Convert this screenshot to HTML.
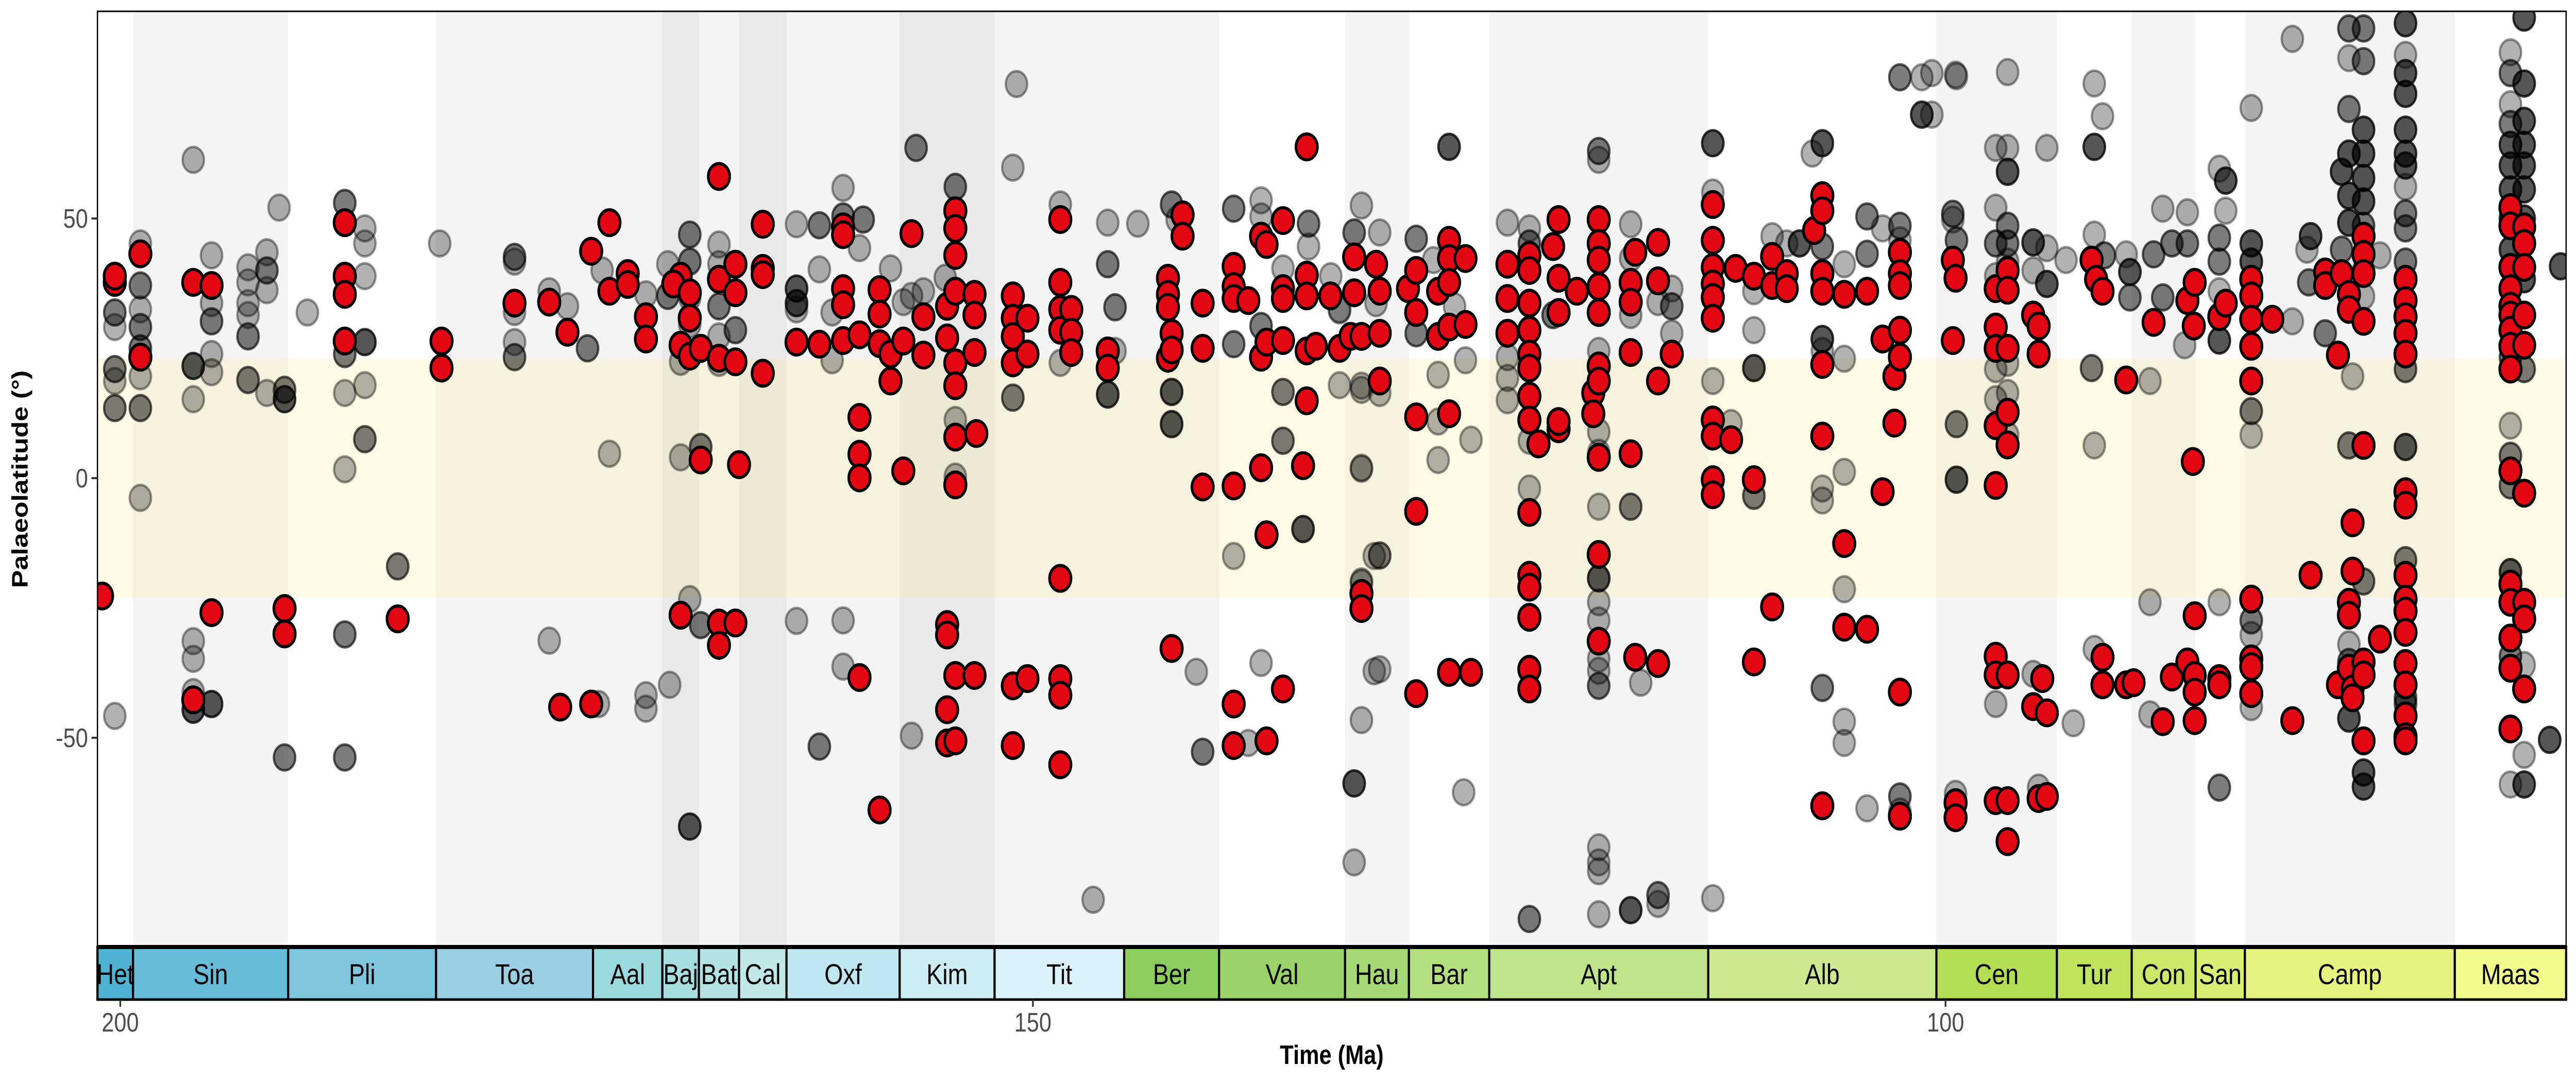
<!DOCTYPE html>
<html><head><meta charset="utf-8"><title>Palaeolatitude through time</title>
<style>
html,body{margin:0;padding:0;background:#fff;width:100%;height:100%;overflow:hidden;}
svg{display:block;width:100vw;height:100vh;font-family:"Liberation Sans",Arial,sans-serif;}
</style></head>
<body>
<svg id="chart" viewBox="0 0 6000 2100" preserveAspectRatio="none" xmlns="http://www.w3.org/2000/svg">
<defs><clipPath id="panelClip"><rect x="227" y="22" width="5750" height="1815"/></clipPath></defs>
<rect x="0" y="0" width="6000" height="2100" fill="#fff"/>
<g id="bands"></g>
<g id="tropics"></g>
<g id="pts" clip-path="url(#panelClip)"></g>
<rect x="227" y="22" width="5750" height="1815" fill="none" stroke="#000" stroke-width="3"/>
<g id="scale"></g>
<g id="axes"></g>
<text x="3102" y="2065" text-anchor="middle" font-size="52" font-weight="bold" fill="#000">Time (Ma)</text>
<text transform="translate(64,930) rotate(-90)" text-anchor="middle" font-size="52" font-weight="bold" fill="#000">Palaeolatitude (°)</text>
</svg>
<script>
const stageNames=["Het","Sin","Pli","Toa","Aal","Baj","Bat","Cal","Oxf","Kim","Tit","Ber","Val","Hau","Bar","Apt","Alb","Cen","Tur","Con","San","Camp","Maas"];
const stageStart=[201.3,199.3,190.8,182.7,174.1,170.3,168.3,166.1,163.5,157.3,152.1,145,139.8,132.9,129.4,125,113,100.5,93.9,89.8,86.3,83.6,72.1];
const stageEnd=[199.3,190.8,182.7,174.1,170.3,168.3,166.1,163.5,157.3,152.1,145,139.8,132.9,129.4,125,113,100.5,93.9,89.8,86.3,83.6,72.1,66];
const stageColors=["#4eb3d3","#67bcd8","#80c5de","#99cee3","#9ad9dd","#a6dde0","#b3e2e3","#bfe7e5","#bfe7f1","#ccecf4","#d9f1f7","#8ccd60","#99d36a","#a6d975","#b3df7f","#bfe48a","#cce98f","#b3de53","#bfe35d","#cce868","#d9ef74","#e6f47f","#f2fa8c"];
const xTicks=[200,150,100];
const yTicks=[50,0,-50];
const tropicLimits=[-23,23];

const redAges=[201.0,200.3,198.9,196.0,195.0,191.0,187.7,182.4,184.8,178.4,176.5,175.5,174.2,173.2,172.2,171.2,175.9,169.3,169.7,168.8,168.2,167.2,166.3,166.1,
164.8,162.95,161.7,160.4,159.5,158.4,157.8,157.1,156.65,156.0,154.7,154.25,153.2,153.1,151.1,150.3,148.5,147.9,145.9,142.6,142.4,141.8,140.7,139.0,138.2,137.5,137.2,136.3,135.0,134.5,135.2,133.7,133.2,132.6,132.4,132.0,
131.2,131.0,129.45,129.0,127.8,127.2,126.3,126.0,124.0,122.8,122.3,121.5,121.2,120.2,119.3,119.0,117.25,117.0,115.75,115.0,112.75,111.75,111.5,110.5,109.5,108.7,107.2,106.75,105.55,104.3,103.45,102.8,102.5,
99.6,99.45,97.25,96.6,95.2,94.9,94.7,94.45,92.0,91.75,91.4,90.1,89.7,88.6,88.1,87.6,86.75,86.35,86.4,86.45,85.0,84.65,83.25,82.1,81.0,80.0,79.2,78.5,78.3,77.9,77.7,77.1,76.2,74.8,69.05,68.3];
const redLats=[[-22.7],[37.7,38.9],[43.2,23.3],[37.7,-42.7],[37.1,-25.9],[-25.1,-30.0],[49.2,38.9,35.4,26.4],[26.4,21.2],[-27.1],[33.7],[33.9],[28.1],[43.7,-43.5],[49.2,36.0],[39.4,37.3],[31.1,26.8],[-44.1],[-26.4,25.6,38.9],[37.4],[35.7,30.8,23.5],[25.0,3.5],[58.1,38.3,23.1,-27.9,-32.2],[41.2,35.7,22.4,-27.9],[2.6],
[48.9,40.4,39.2,20.2],[26.2],[25.8],[48.4,46.9,36.5,33.4,26.5],[27.6,11.7,4.6,0.05,-38.4],[36.3,31.6,25.9,-63.9],[23.9,18.7],[26.4,1.4],[47.1],[31.1,23.7],[33.1,27.0,-28.2,-30.2,-44.6,-51.0],[51.5,48.1,42.9,36.0,22.2,17.8,7.9,-1.3,-38.0,-50.6],[35.4,31.4,24.2,-38.0],[8.6],[35.1,30.8,27.3,22.2,-40.0,-51.5],[30.8,23.9,-38.6],[49.8,37.7,32.5,28.5,-19.3,-38.6,-41.8,-55.2],[32.5,28.1,24.2],[24.5,21.2],[38.5,35.4,32.9,23.1],[27.9,24.7,-32.8],[50.7,46.6],[33.7,25.0,-1.7],[40.8,36.9,34.6,-1.5,-43.5,-51.5],[34.2],[46.6,23.3,2.0],[45.0,26.2,-10.9,-50.6],[49.6,36.5,34.6,26.5,-40.6],[63.8,39.1,35.1,24.5,14.9],[25.4],[2.4],[35.1],[25.0],[27.3],[35.7,42.6],[27.3,-22.2,-25.1],
[41.2],[36.0,27.9,18.7],[36.5],[40.0,31.9,11.8,-6.4,-41.5],[36.0,27.3],[45.8,42.3,37.7,29.1,12.4,-37.4],[42.3,29.6],[-37.4],[41.2,34.6,27.9],[42.9,40.0,33.7,28.5,23.9,21.2,15.8,11.2,-6.6,-18.7,-21.0,-26.8,-36.8,-40.6],[6.6],[44.6],[49.8,38.5,31.9,9.5,10.9],[36.0],[16.4,12.4],[49.8,45.2,42.0,36.9,31.9,21.6,18.7,4.0,-14.7,-31.4],[37.7,33.9,24.2,4.7],[43.5,-34.5],[45.4,38.0,18.7,-35.7],[23.9],[52.7,45.8,40.6,37.4,34.8,30.8,11.2,8.1,-0.3,-3.2],[7.4],[40.4],[38.9,-0.3,-35.4],[42.7,37.1,-24.8],[39.4,36.5],[47.7],[54.4,51.5,39.4,36.0,21.9,8.1,-63.1],[35.4,-12.6,-28.7],[36.0,-29.1],[26.8,-2.6],[10.6,19.6],[43.5,39.4,37.1,28.5,23.3,-41.2,-65.1],
[42.0,26.5],[38.5,-62.5,-65.4],[36.5,29.1,25.0,10.1,-1.4,-34.3,-37.9,-62.1],[40.0,36.2,25.0,12.7,6.4,-37.9,-62.1,-70.0],[31.4,-44.0],[29.3,23.9,-61.7],[-38.6],[-45.2,-61.3],[42.0],[38.3],[36.0,-34.5,-39.8],[18.9,-39.8],[-39.4],[30.0],[-46.9],[-38.3],[34.2,-35.4],[37.7,-26.5,-46.7,-38.0,-41.2],[29.3],[3.2],[31.1,-38.6,-39.8],[33.7],[38.3,35.1,30.6,25.4,18.7,-23.3,-34.8,-36.3,-41.5],[30.6],[-46.7],[-18.7],[39.7,37.1],[23.7,-39.8],[39.4],[35.4,32.5,-23.9,-26.4,-36.6],[-8.6,-17.9,-40.6,-42.3],[46.6,43.1,39.4,30.2,6.3,-35.4,-37.9,-50.6],[-31.0],[38.3,34.2,31.1,27.9,23.9,-2.6,-5.2,-18.7,-23.3,-25.6,-29.7,-35.7,-39.8,-45.8,-49.8,-50.6],[52.1,48.6,40.6,36.5,33.1,31.4,28.5,25.4,21.0,1.4,-20.4,-23.9,-30.8,-36.6,-48.3],[48.4,45.2,40.6,31.4,25.6,-2.9,-23.9,-27.1,-40.6]];

const greyAges=[200.3,198.9,196.0,195.0,193.0,191.97,191.3,191.0,189.75,187.7,186.6,184.8,182.5,178.4,176.5,175.5,174.4,173.6,173.2,173.8,171.2,169.9,170.0,168.8,169.3,168.2,167.2,166.3,
162.95,161.7,160.4,159.3,159.5,161.0,157.8,157.1,156.65,156.0,156.4,154.25,154.8,150.9,151.1,148.5,145.9,144.25,145.5,146.7,142.4,141.05,140.7,142.1,139.0,137.5,134.9,136.3,138.2,135.2,132.4,132.0,133.2,131.3,
133.68,131.0,131.2,129.0,127.8,126.3,126.0,127.2,126.4,128.05,126.9,124.0,122.8,121.5,119.0,117.25,116.7,115.75,115.0,112.75,111.75,110.5,109.5,108.7,108.0,106.75,107.3,105.55,104.3,103.45,102.5,101.3,99.4,99.6,
100.75,99.45,96.6,97.25,95.2,94.45,94.9,93.0,93.4,91.85,91.4,91.3,92.0,89.9,90.1,88.8,88.6,88.1,87.6,86.75,86.9,85.0,84.65,83.25,81.0,80.0,80.2,80.1,79.2,77.9,77.1,78.3,76.2,77.7,74.8,69.05,68.3,66.9,66.3];
const greyLats=[[31.9,29.1,21.0,18.7,13.5,-45.8,31.9,21.0,13.5],[45.2,37.1,32.5,29.1,25.0,19.6,13.5,-3.8,37.1,29.1,25.0,13.5],[61.3,21.6,15.2,-31.4,-34.8,-41.2,-44.6,21.6,21.6,-44.6,-44.6],[42.9,33.7,30.2,23.9,20.4,-43.5,-43.5,-43.5,30.2],[40.6,37.7,33.7,31.4,27.3,18.9,27.3,18.9],[43.5,40.0,36.2,16.4,40.0],[52.1],[17.0,15.2,-53.8,17.0,15.2,15.2,-53.8],[31.9],[53.0,23.9,16.4,1.7,-30.1,-53.8,53.0,23.9,-30.1,-53.8],[48.1,45.2,38.9,26.2,26.2,17.9,7.5,26.2,7.5],[-17.0,-17.0],[45.2],[42.6,41.7,26.2,23.3,32.0,42.6,23.3],[36.0,-31.3],[33.1],[25.0,25.0],[40.0],[4.7],[-43.5],[35.4,-41.8,-44.4],[-39.8],[41.2,35.1,35.1],[46.9,41.7,34.8,29.6,-23.3,-67.1,-67.1,-67.1,46.9,41.7],[22.4,4.0],[6.0,-28.3,6.0,-28.3],[45.0,41.2,33.1,27.3,22.2,33.1],[28.5,28.5],
[48.9,36.5,33.7,32.5,-27.5,36.5,33.7,36.5,33.7],[48.7,40.2,-51.7,48.7,-51.7],[55.9,50.4,-27.4,-36.3,50.4],[49.8,49.8],[44.3],[31.9,22.7],[40.4],[33.9],[35.1,-49.6],[36.0],[63.6,63.6],[56.1,11.2,0.3,56.1],[38.6],[75.9],[59.8,15.5,15.5],[52.7,22.2],[49.2,41.2,16.1,41.2,16.1,16.1],[49.0],[32.9,24.5,32.9],[-81.2],[52.7,16.6,10.4,52.7,16.6,16.6,10.4,10.4],[-37.3],[-52.7,-52.7],[49.8],[51.9,25.8,-15.0,51.9,25.8],[53.5,50.4,29.3,-35.6,29.3],[49.0,44.6,49.0],[40.4,16.6,7.2,16.6,7.2],[-51.0],[-9.8,-9.8,-9.8],[47.3,47.3,-58.8,-58.8,-58.8,-74.0],[52.5,17.0,1.8,-46.6,-19.9,17.8,2.0,-20.2],[32.3,17.9,32.5],[-15.0,-37.2],
[38.9],[16.4,-14.9,-36.8,47.3,-14.9],[33.7],[46.1,27.9,46.1,27.9],[19.9,10.9,3.5],[22.7],[7.4],[63.8,63.8,63.8],[-60.5],[42.0],[33.1],[49.2,23.3,19.3,15.0],[48.1,45.2,-2.0,7.2,-84.9,45.2,-84.9],[31.4,31.4],[63.0,63.0,61.3,24.5,8.9,4.9,-5.5,-19.3,-19.3,-23.9,-27.4,-34.8,-37.1,-40.0,-40.0,-71.1,-74.0,-75.7,-84.0,-19.3],[48.9,42.3,31.4,-5.5,-83.2,-83.2,-83.2,-5.5],[-39.4],[-80.3,-82.0,-80.3,33.9],[36.5,33.1,33.1,27.9],[64.5,64.5,64.5,55.0,18.7,-80.9],[10.6],[28.5,21.2,21.2,21.2,-3.4,36.0,-3.4],[46.6],[45.2],[45.2,45.2,45.2],[64.5,64.5,64.5,44.6,44.6,26.8,26.8,24.5,-2.0,-4.3,-40.4,26.8,-40.4],[62.5],[41.2,23.0,1.2,-21.4,-46.9,-51.0],[50.4,50.4,43.2,43.2,-63.6],[48.1],[48.6,48.6,45.8,-61.3,-61.3,-64.2,77.2,77.2],[77.2,70.0,70.0,70.0],[77.4,45.8,45.8,10.4,10.4,-0.3,-0.3,-0.3],[50.9,50.9,49.8],
[78.0,70.0],[77.7,-60.8],[78.2,63.6,59.0,59.0,48.6,45.2,41.7,22.2,16.4,8.3,59.0,48.6,45.2],[63.6,52.1,45.2,38.9,21.0,15.2,-43.5,45.2],[45.4,45.4,40.0,-37.7,45.4],[37.4,37.4,63.6,44.3,37.4],[-59.6],[-47.2],[42.0],[76.0,63.8,63.8,46.9,6.3,-32.9,63.8],[69.7],[42.9,42.9],[21.2,21.2],[39.7,39.7,34.8,34.8,39.7],[43.1],[18.7,-23.9,-45.5],[43.1,43.1],[51.9,34.8,34.8],[45.2,45.2],[51.2,45.2,45.2],[25.6],[-23.9,-59.6,-59.6,46.3,46.3,59.6,26.5,26.5,36.0,41.7,41.7,26.5],[57.3,57.3,51.5,57.3],[71.3,45.2,45.2,41.7,41.7,12.9,12.9,8.3,-27.4,-27.4,-30.2,-44.1,45.2,41.7],[84.6,30.2],[46.6,46.6,46.6],[44.0],[37.7,37.7],[27.9,27.9],
[86.6,86.6,80.9,71.1,71.1,62.5,62.5,62.5,54.4,54.4,54.4,49.2,49.2,49.2,6.3,6.3,-32.0,-46.3,-46.3,-46.3,-35.4,-35.4],
[86.6,86.6,80.3,80.3,67.1,67.1,67.1,62.5,62.5,62.5,57.8,57.8,57.8,53.3,53.3,53.3,48.6,48.6,-19.9,-19.9,-56.7,-56.7,-56.7,-59.4,-59.4,-59.4,43.0,40.0,35.0],
[59.0,59.0,59.0,44.0,44.0],[42.9],[19.6],
[87.6,87.6,87.6,81.5,78.0,78.0,78.0,74.0,74.0,74.0,67.1,67.1,67.1,62.5,62.5,62.5,60.2,60.2,60.2,56.1,51.0,51.0,48.1,48.1,41.7,41.7,21.0,21.0,6.0,6.0,6.0,-15.8,-15.8,-42.3,-42.3,-43.5,-43.5],
[82.0,78.0,78.0,72.0,68.2,68.2,64.2,64.2,64.2,60.2,60.2,60.2,55.6,55.6,55.6,44.0,44.0,44.0,23.3,23.3,10.1,4.3,4.3,-1.4,-1.4,-18.1,-18.1,-18.1,-34.3,-34.3,-59.0,50.0,50.0,50.0],
[88.7,88.7,88.7,76.0,76.0,76.0,68.8,68.8,68.8,64.2,64.2,64.2,60.2,60.2,60.2,55.6,55.6,55.6,38.3,38.3,38.3,21.0,21.0,-36.0,-53.3,-59.0,-59.0,-59.0,50.0,50.0,50.0],
[-50.4,-50.4,-50.4],[40.8,40.8,40.8]];

const NS="http://www.w3.org/2000/svg";
const PX0=227,PX1=5977,PY0=22,PY1=1837;
const AGE_L=201.25,AGE_R=66,LAT_T=89.9,LAT_B=-90.2;
function xAge(a){return PX0+(AGE_L-a)*(PX1-PX0)/(AGE_L-AGE_R);}
function yLat(v){return PY0+(LAT_T-v)*(PY1-PY0)/(LAT_T-LAT_B);}
function mk(tag,attrs,parent){const e=document.createElementNS(NS,tag);for(const k in attrs)e.setAttribute(k,attrs[k]);parent.appendChild(e);return e;}
function cx(v,lo,hi){return Math.max(lo,Math.min(hi,v));}

const bands=document.getElementById('bands');
for(let i=0;i<stageNames.length;i++){
  const x0=cx(xAge(stageStart[i]),PX0,PX1),x1=cx(xAge(stageEnd[i]),PX0,PX1);
  if(i%2===1){
    const r=mk('rect',{x:x0,y:PY0,width:x1-x0,height:PY1-PY0,fill:'#000','fill-opacity':0.043},bands);
    
    
  }
}
{
  const x0=xAge(174.1),x1=xAge(145);
  const r=mk('rect',{x:x0,y:PY0,width:x1-x0,height:PY1-PY0,fill:'#000','fill-opacity':0.043},bands);
  
  
}
{
  const tg=document.getElementById('tropics');
  const y0=yLat(tropicLimits[1]),y1=yLat(tropicLimits[0]);
  const r=mk('rect',{x:PX0,y:y0,width:PX1-PX0,height:y1-y0,fill:'rgb(250,235,150)','fill-opacity':0.25},tg);
  
  
}
const pts=document.getElementById('pts');
const gG=mk('g',{},pts);


for(let i=0;i<greyAges.length;i++){
  for(const v of greyLats[i]){
    const c=mk('circle',{cx:xAge(greyAges[i]),cy:yLat(v),r:25,fill:'#000','fill-opacity':0.3,stroke:'#000','stroke-opacity':0.4,'stroke-width':5},gG);
    
    
  }
}
const gR=mk('g',{},pts);


for(let i=0;i<redAges.length;i++){
  for(const v of redLats[i]){
    const c=mk('circle',{cx:xAge(redAges[i]),cy:yLat(v),r:25,fill:'#e30613',stroke:'#000','stroke-width':6},gR);
    
    
  }
}
const sc=document.getElementById('scale');
const TS0=1838,TS1=1940;
for(let i=0;i<stageNames.length;i++){
  const x0=cx(xAge(stageStart[i]),PX0,PX1),x1=cx(xAge(stageEnd[i]),PX0,PX1);
  const r=mk('rect',{x:x0,y:TS0,width:x1-x0,height:TS1-TS0,fill:stageColors[i],stroke:'#000','stroke-width':5},sc);
  
  
  const t=mk('text',{x:(x0+x1)/2,y:1910,'text-anchor':'middle','font-size':56,fill:'#000','font-family':'"Liberation Sans Narrow","Liberation Sans",sans-serif'},sc);
  t.textContent=stageNames[i];
  
  
}
{
  const l=mk('line',{x1:PX0,x2:PX1,y1:TS0,y2:TS0,stroke:'#000','stroke-width':8},sc);
  
  
}
const ax=document.getElementById('axes');
for(const t of xTicks){
  const x=xAge(t);
  const l=mk('line',{x1:x,x2:x,y1:TS1,y2:TS1+14,stroke:'#333','stroke-width':4},ax);
  
  
  const tx=mk('text',{x:x,y:2002,'text-anchor':'middle','font-size':52,fill:'#4d4d4d'},ax);
  tx.textContent=t;
  
  
}
for(const v of yTicks){
  const y=yLat(v);
  const l=mk('line',{x1:PX0-14,x2:PX0,y1:y,y2:y,stroke:'#333','stroke-width':4},ax);
  
  
  const tx=mk('text',{x:PX0-22,y:y+18,'text-anchor':'end','font-size':52,fill:'#4d4d4d'},ax);
  tx.textContent=v;
  
  
}
</script>
</body></html>
